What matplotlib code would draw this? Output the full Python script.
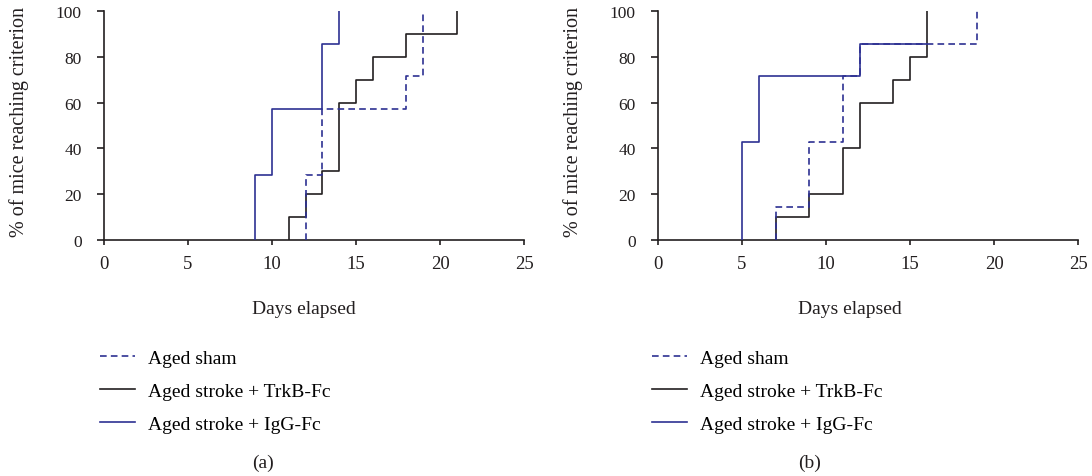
import matplotlib
matplotlib.use("Agg")
import matplotlib.pyplot as plt

plt.rcParams['font.family'] = ['Liberation Serif', 'DejaVu Serif']
plt.rcParams['font.size'] = 14

BLUE = '#2e3192'
BLACK = '#231f20'

# (a) days at which each step happens and the % reached
a_sham_days = [12, 13, 18, 19]
a_sham_pct = [28.6, 57.1, 71.4, 100]
a_trkb_days = [11, 12, 13, 14, 15, 16, 18, 21]
a_trkb_pct = [10, 20, 30, 60, 70, 80, 90, 100]
a_igg_days = [9, 10, 13, 14]
a_igg_pct = [28.6, 57.1, 85.7, 100]

# (b)
b_sham_days = [7, 9, 11, 12, 19]
b_sham_pct = [14.3, 42.9, 71.4, 85.7, 100]
b_trkb_days = [7, 9, 11, 12, 14, 15, 16]
b_trkb_pct = [10, 20, 40, 60, 70, 80, 100]
b_igg_days = [5, 6, 12, 16]
b_igg_pct = [42.9, 71.4, 85.7, 85.7]

labels = ['Aged sham', 'Aged stroke + TrkB-Fc', 'Aged stroke + IgG-Fc']
xticks = [0, 5, 10, 15, 20, 25]
yticks = [0, 20, 40, 60, 80, 100]

W, H = 1092, 477
fig = plt.figure(figsize=(W / 100, H / 100), dpi=100)


def step(ax, days, pct, **kw):
    x = [days[0]] + list(days)
    y = [0] + list(pct)
    return ax.plot(x, y, drawstyle='steps-post', lw=1.2, **kw)[0]


def panel(left, days_pct, tag, tag_x, lab_x, ylab_x, leg_x):
    ax = fig.add_axes([left / W, 1 - 241 / H, 420 / W, 229 / H])
    (sd, sp), (td, tp), (gd, gg) = days_pct
    h3 = step(ax, gd, gg, color=BLUE, zorder=3)
    h2 = step(ax, td, tp, color=BLACK, zorder=2)
    h1 = step(ax, sd, sp, color=BLUE, ls=(0, (4, 2.5)), zorder=4)
    ax.set_xlim(0, 25)
    ax.set_ylim(0, 100)
    ax.set_xticks(xticks)
    ax.set_yticks(yticks)
    for s in ['top', 'right']:
        ax.spines[s].set_visible(False)
    for s in ['left', 'bottom']:
        ax.spines[s].set_color(BLACK)
        ax.spines[s].set_linewidth(1.2)
    ax.tick_params(direction='out', width=1.2, color=BLACK, labelcolor=BLACK)
    ax.tick_params(axis='y', length=5, pad=11, labelsize=12.5)
    ax.tick_params(axis='x', length=3.5, pad=7, labelsize=13.5)
    fig.text(ylab_x / W, 1 - 122 / H, '% of mice reaching criterion',
             rotation=90, ha='center', va='center', fontsize=14.5, color=BLACK)
    fig.text(lab_x / W, 1 - 310 / H, 'Days elapsed', ha='center', va='center',
             fontsize=14, color=BLACK)
    fig.text(tag_x / W, 1 - 463 / H, tag, ha='center', va='center',
             fontsize=14, color=BLACK)
    fig.legend([h1, h2, h3], labels, loc='upper left',
               bbox_to_anchor=(leg_x / W, 1 - 350 / H), frameon=False,
               handlelength=1.8, handletextpad=0.65, labelspacing=0.8,
               fontsize=14, borderaxespad=0, borderpad=0)
    return ax


panel(104, [(a_sham_days, a_sham_pct), (a_trkb_days, a_trkb_pct),
            (a_igg_days, a_igg_pct)], '(a)', 263, 304, 19, 100)
panel(658, [(b_sham_days, b_sham_pct), (b_trkb_days, b_trkb_pct),
            (b_igg_days, b_igg_pct)], '(b)', 810, 850, 573, 652)

fig.savefig('out.png', dpi=100)
